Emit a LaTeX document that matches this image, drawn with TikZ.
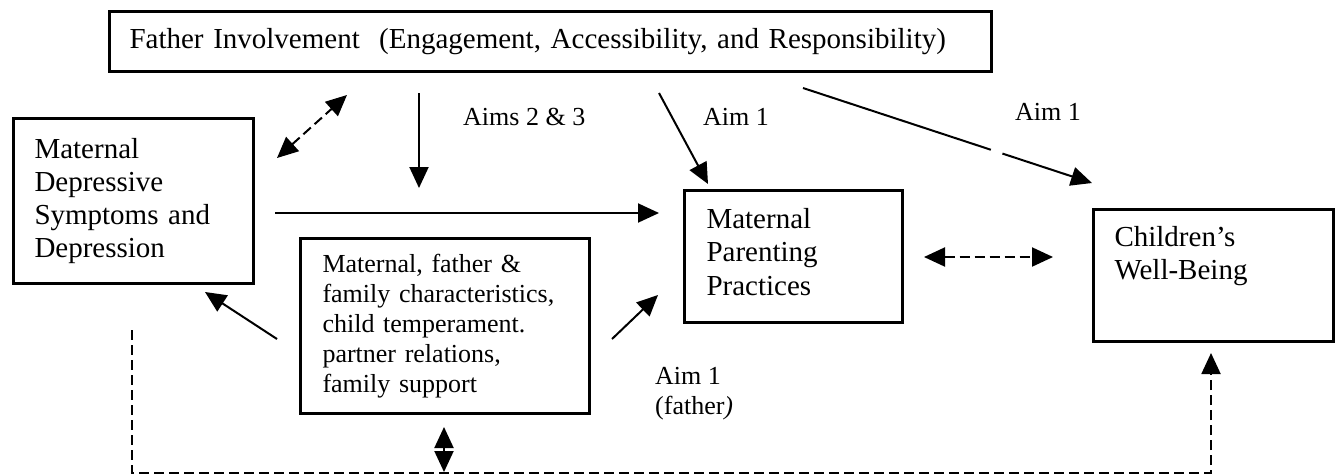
\documentclass[tikz,border=0pt]{standalone}
\usepackage{fontspec}
\setmainfont{Liberation Serif}
\usetikzlibrary{arrows.meta, positioning, calc}

\begin{document}
\begin{tikzpicture}[x=1pt, y=-1pt, >={Triangle[length=21pt, width=19pt]}]

    % Define block styles
    \tikzstyle{block} = [rectangle, draw, line width=3pt, anchor=north west, align=left,
        inner xsep=21pt, inner ysep=0pt, font=\fontsize{29}{33.3}\selectfont]
    \tikzstyle{line} = [draw, line width=2pt, ->]
    \tikzstyle{dline} = [draw, line width=2pt, dash pattern=on 10pt off 5pt]
    \tikzstyle{aim} = [anchor=base west, align=left, inner sep=0pt, font=\fontsize{26}{30}\selectfont]

    \useasboundingbox (0,0) rectangle (1337,475);

    % Define nodes
    \node [block, text width=842pt, minimum width=882pt, minimum height=60pt, inner xsep=20pt] (father) at (108,10)
        {Father Involvement\ \ (Engagement, Accessibility, and Responsibility)};
    \node [block, text width=198pt, minimum width=240pt, minimum height=165pt] (depress) at (12,117)
        {Maternal\\Depressive\\Symptoms and\\Depression};
    \node [block, text width=245pt, minimum width=289pt, minimum height=175pt, inner xsep=22pt,
        font=\fontsize{26}{29.9}\selectfont] (factors) at (299,237)
        {Maternal, father \&\\family characteristics,\\child temperament.\\partner relations,\\family support};
    \node [block, text width=174pt, minimum width=218pt, minimum height=132pt, inner xsep=22pt, text depth=76pt] (parenting) at (683,189)
        {Maternal\\Parenting\\Practices};
    \node [block, text width=198pt, minimum width=240pt, minimum height=132pt, text depth=78pt] (children) at (1092,208)
        {Children's\\Well-Being};

    % Labels
    \node [aim] (aim23) at (463,125) {Aims 2 \& 3};
    \node [aim] (aim1a) at (703,125) {Aim 1};
    \node [aim] (aim1b) at (1015,120) {Aim 1};
    \node [aim, anchor=north west] (aim1c) at (655,367.5) {Aim 1\\(father\textit{)}};

    % End points of the edges
    \coordinate (dpA) at (277,158);
    \coordinate (dpB) at (347,95);
    \coordinate (mdA) at (419,93);
    \coordinate (mdB) at (419,188);
    \coordinate (dmA) at (275,213);
    \coordinate (dmB) at (659,213);
    \coordinate (fpA) at (659,93);
    \coordinate (fpB) at (708,184);
    \coordinate (fcA) at (803,88);
    \coordinate (fcB) at (1092,183);
    \coordinate (pcA) at (924,257);
    \coordinate (pcB) at (1053,257);
    \coordinate (xdA) at (277,339);
    \coordinate (xdB) at (205,292);
    \coordinate (xpA) at (612,339);
    \coordinate (xpB) at (658,295);
    \coordinate (lpA) at (132,330);
    \coordinate (lpB) at (132,473);
    \coordinate (lpC) at (1211,353);
    \coordinate (sbA) at (444,427);
    \coordinate (sbB) at (444,472);

    % Draw edges
    \path [dline, <->] (dpA) -- (dpB);
    \path [line] (mdA) -- (mdB);
    \path [line] (dmA) -- (dmB);
    \path [line] (fpA) -- (fpB);
    \path [line, -] (fcA) -- ($(fcA)!.65!(fcB)$);
    \path [line] ($(fcA)!.69!(fcB)$) -- (fcB);
    \path [dline, <->] (pcA) -- (pcB);
    \path [line] (xdA) -- (xdB);
    \path [line] (xpA) -- (xpB);
    \path [dline, ->] (lpA) -- (lpB) -| (lpC);
    \path [line, <->] (sbA) -- (sbB);

\end{tikzpicture}
\end{document}
